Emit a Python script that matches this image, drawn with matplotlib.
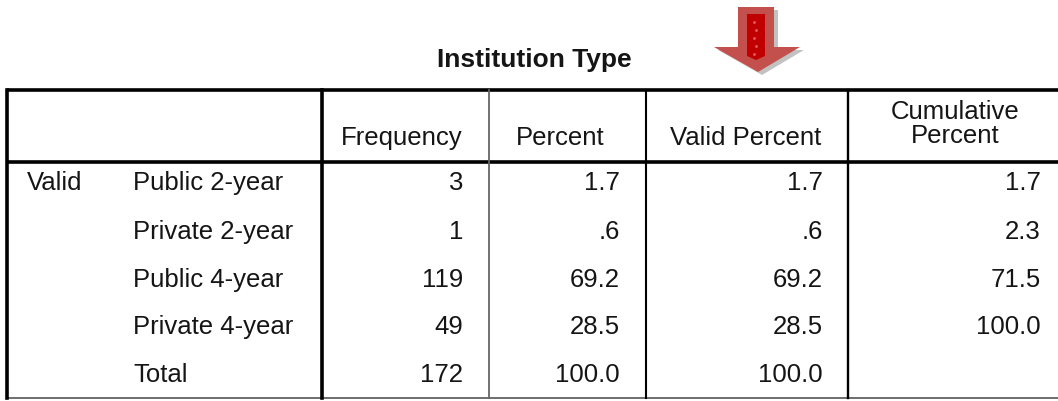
import matplotlib
matplotlib.use("Agg")
import matplotlib.pyplot as plt
from matplotlib.patches import Polygon

plt.rcParams['font.family'] = ['Liberation Sans', 'DejaVu Sans']

# table content
title = "Institution Type"
group_label = "Valid"
categories = ["Public 2-year", "Private 2-year", "Public 4-year", "Private 4-year", "Total"]
frequency = ["3", "1", "119", "49", "172"]
percent = ["1.7", ".6", "69.2", "28.5", "100.0"]
valid_percent = ["1.7", ".6", "69.2", "28.5", "100.0"]
cumulative_percent = ["1.7", "2.3", "71.5", "100.0", ""]
headers = ["Frequency", "Percent", "Valid Percent", "Cumulative\nPercent"]

# layout in pixel coords
W, H = 1058, 401
col_edges = [7, 322, 489, 646, 848, 1070]
num_right = [463, 620, 823, 1041]
top_y, head_y, bot_y = 90, 162, 398
row_y = [183, 232, 280, 327, 375]
fs = 18.5
txt_col = '#151515'

fig = plt.figure(figsize=(W / 100, H / 100), dpi=100)
ax = fig.add_axes([0, 0, 1, 1])
ax.set_xlim(0, W)
ax.set_ylim(H, 0)
ax.axis('off')

# title
ax.text(534, 67, title, ha='center', va='baseline', fontsize=19,
        fontweight='bold', color=txt_col)

# arrow (shadow, outer, inner)
def arrow_pts(dx, dy):
    pts = [(738, 7), (774, 7), (774, 47), (800, 47), (758, 72),
           (714, 47), (738, 47)]
    return [(x + dx, y + dy) for x, y in pts]

ax.add_patch(Polygon(arrow_pts(4, 3), closed=True, color='#9a9a9a', alpha=0.6, lw=0))
ax.add_patch(Polygon(arrow_pts(0, 0), closed=True, color='#c4504d', lw=0))
ax.add_patch(Polygon([(747, 14), (765, 14), (765, 56), (756, 60), (747, 56)],
                     closed=True, color='#c00000', lw=0))
for yy in [22, 30, 38, 46, 54]:
    ax.plot([752 + (yy % 16) / 4], [yy], marker='.', ms=2, color='#e06060')

# lines
ax.plot([col_edges[0], W], [top_y, top_y], color='black', lw=2.6, solid_capstyle='butt')
ax.plot([col_edges[0], W], [head_y, head_y], color='black', lw=2.6, solid_capstyle='butt')
ax.plot([col_edges[0], W], [bot_y, bot_y], color='#555555', lw=1.2, solid_capstyle='butt')
ax.plot([col_edges[0], col_edges[0]], [top_y, bot_y], color='black', lw=2.6)
ax.plot([col_edges[1], col_edges[1]], [top_y, bot_y], color='black', lw=2.6)
ax.plot([col_edges[2], col_edges[2]], [top_y, bot_y], color='#666666', lw=1.3)
ax.plot([col_edges[3], col_edges[3]], [top_y, bot_y], color='black', lw=1.5)
ax.plot([col_edges[4], col_edges[4]], [top_y, bot_y], color='black', lw=1.7)

# headers
head_cx = [402, 560, 746, 955]
for cx, h in zip(head_cx, headers):
    if "\n" in h:
        l1, l2 = h.split("\n")
        ax.text(cx, 112, l1, ha='center', va='center', fontsize=fs, color=txt_col)
        ax.text(cx, 136, l2, ha='center', va='center', fontsize=fs, color=txt_col)
    else:
        ax.text(cx, 138, h, ha='center', va='center', fontsize=fs, color=txt_col)

# body
ax.text(27, row_y[0], group_label, ha='left', va='center', fontsize=fs, color=txt_col)
columns = [frequency, percent, valid_percent, cumulative_percent]
for i, cat in enumerate(categories):
    ax.text(133, row_y[i], cat, ha='left', va='center', fontsize=fs, color=txt_col)
    for rx, col in zip(num_right, columns):
        ax.text(rx, row_y[i], col[i], ha='right', va='center', fontsize=fs, color=txt_col)

fig.savefig("out.png", dpi=100)
